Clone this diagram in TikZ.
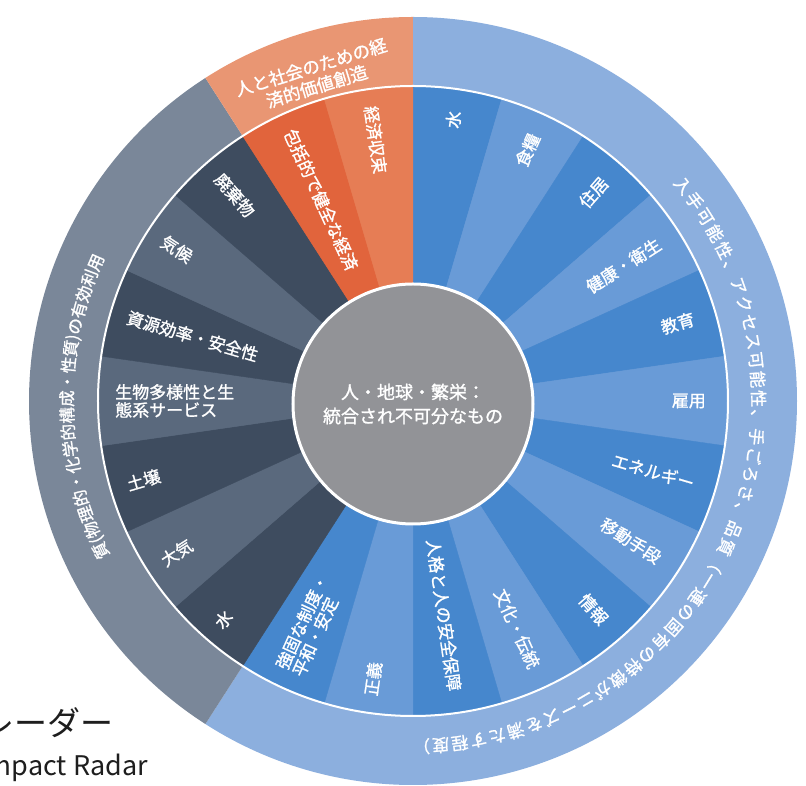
\documentclass[tikz,border=0pt]{standalone}
\usepackage{fontspec}
\setmainfont{Noto Sans CJK JP}
\newfontfamily\labfont{Noto Sans CJK JP}[FakeBold=1.2]
\usetikzlibrary{decorations.text}
\definecolor{bdark}{HTML}{4687CD}
\definecolor{blight}{HTML}{699BD7}
\definecolor{bouter}{HTML}{8CAFDE}
\definecolor{gdark}{HTML}{3E4C5F}
\definecolor{glight}{HTML}{5A697D}
\definecolor{gouter}{HTML}{7A8799}
\definecolor{odark}{HTML}{E1643C}
\definecolor{olight}{HTML}{E67D55}
\definecolor{oouter}{HTML}{E99673}
\definecolor{hubgrey}{HTML}{929397}
\definecolor{titlecol}{HTML}{1E1E1E}
\tikzset{
  seglabel/.style={text=white, font=\labfont\fontsize{17pt}{18pt}\selectfont, inner sep=0pt},
  ringtext/.style={text=white, font=\labfont\fontsize{17.5pt}{20pt}\selectfont, inner sep=0pt},
}
\begin{document}
\begin{tikzpicture}[x=1pt,y=1pt]
\useasboundingbox (-413,-385) rectangle (393,401);
\fill[white] (-413,-385) rectangle (393,401);
% outer ring sectors
\fill[bouter] (0,0) -- (90:384pt) arc[start angle=90, end angle=-122.727, radius=384pt] -- cycle;
\fill[gouter] (0,0) -- (-122.727:384pt) arc[start angle=-122.727, end angle=-237.273, radius=384pt] -- cycle;
\fill[oouter] (0,0) -- (122.727:384pt) arc[start angle=122.727, end angle=90, radius=384pt] -- cycle;
% inner segments
\foreach \i/\c in {0/bdark,1/blight,2/bdark,3/blight,4/bdark,5/blight,6/bdark,7/blight,8/bdark,9/blight,10/bdark,11/blight,12/bdark,13/gdark,14/glight,15/gdark,16/glight,17/gdark,18/glight,19/gdark,20/odark,21/olight}{
  \pgfmathsetmacro\a{90-\i*360/22}
  \pgfmathsetmacro\b{90-(\i+1)*360/22}
  \fill[\c, draw=\c, line width=0.4pt] (0,0) -- (\a:315pt) arc[start angle=\a, end angle=\b, radius=315pt] -- cycle;
}
\draw[white, line width=2pt] (0,0) circle[radius=315pt];
% central hub
\node[circle, fill=hubgrey, draw=white, line width=3pt, minimum size=240pt, inner sep=0pt,
      align=center, text=white, font=\labfont\fontsize{18pt}{24pt}\selectfont] (hub) at (0,-3) {人・地球・繁栄：\\統合され不可分なもの};
% right-hand labels (reading outward)
\foreach \i/\lab in {0/水,1/食糧,2/住居,3/健康・衛生,4/教育,5/雇用,6/エネルギー,7/移動手段,8/情報,9/文化・伝統,10/人格と人の安全保障}{
  \pgfmathsetmacro\m{90-(\i+0.5)*360/22}
  \node[seglabel, anchor=east, rotate=\m] (r\i) at (\m:293pt) {\lab};
}
% left-hand labels (reading inward)
\foreach \i/\lab in {11/正義,12/{強固な制度・\\平和・安定},13/水,14/大気,15/土壌,16/{生物多様性と生\\態系サービス},17/資源効率・安全性,18/気候,19/廃棄物,20/包括的で健全な経済,21/経済収束}{
  \pgfmathsetmacro\m{90-(\i+0.5)*360/22}
  \pgfmathsetmacro\rr{\m+180}
  \node[seglabel, anchor=west, rotate=\rr, align=left] (l\i) at (\m:298pt) {\lab};
}
% outer ring texts
\node[ringtext, rotate=17, align=center] (econ) at (107:339pt) {人と社会のための経\\済的価値創造};
\path[decorate, decoration={text along path, text color=white, text align={fit to path},
  text={|\labfont\fontsize{17pt}{17pt}\selectfont|入手可能性、アクセス可能性、手ごろさ、品質（一連の固有の特徴がニーズを満たす程度）}}]
  (40:339pt) arc[start angle=40, end angle=-90, radius=339pt];
\path[decorate, decoration={text along path, text color=white, text align=center,
  text={|\labfont\fontsize{16.5pt}{16.5pt}\selectfont|質(物理的・化学的構成・性質)の有効利用}}]
  (212:340pt) arc[start angle=212, end angle=150, radius=340pt];
% partial title
\node[anchor=east, text=titlecol, font=\fontsize{33pt}{33pt}\selectfont, inner sep=0pt] (t1) at (-299,-322) {レーダー};
\node[anchor=base east, text=titlecol, font=\fontsize{27pt}{27pt}\selectfont, inner sep=0pt] (t2) at (-265,-374) {mpact Radar};
\end{tikzpicture}
\end{document}
